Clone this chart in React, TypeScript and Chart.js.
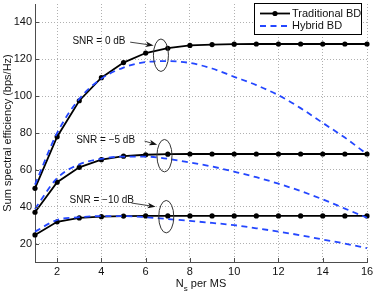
import React, { useEffect, useRef } from "react";
import { Chart, registerables } from "chart.js";

Chart.register(...registerables);

// ---------- data ----------
const nsPerMS = [1, 2, 3, 4, 5, 6, 7, 8, 9, 10, 11, 12, 13, 14, 15, 16];

const tradSnr0 = [50, 78, 97.5, 110, 118.2, 123.4, 126, 127.5, 128, 128.2, 128.3, 128.3, 128.3, 128.3, 128.3, 128.3];
const tradSnrM5 = [37, 53.3, 61.4, 65.5, 67.4, 68.2, 68.5, 68.6, 68.6, 68.6, 68.6, 68.6, 68.6, 68.6, 68.6, 68.6];
const tradSnrM10 = [24.7, 31.8, 33.9, 34.6, 34.9, 35, 35, 35, 35, 35, 35, 35, 35, 35, 35, 35];

const hybSnr0 = [52, 80, 98.5, 109.5, 115.5, 118.5, 119, 118, 115, 110.5, 106, 100.5, 93.5, 85.5, 77.5, 68.5];
const hybSnrM5 = [38.8, 55.5, 63, 66, 67.2, 67.2, 66, 64, 61.8, 59, 56, 52.5, 48.5, 44, 39, 34];
const hybSnrM10 = [26.5, 32.8, 34.3, 34.9, 34.9, 34.3, 33.3, 32.3, 31.2, 30, 28.3, 26.5, 24.5, 22.2, 20, 17.5];

const xTickValues = [2, 4, 6, 8, 10, 12, 14, 16];
const yTickValues = [20, 40, 60, 80, 100, 120, 140];

const legendLabels = ["Traditional BD", "Hybrid BD"];
const yAxisTitle = "Sum spectral efficiency (bps/Hz)";
const xAxisTitleMain = "N";
const xAxisTitleSub = "s";
const xAxisTitleRest = " per MS";

// annotations (data units)
const snrLabels = ["SNR = 0 dB", "SNR = \u22125 dB", "SNR = \u221210 dB"];
const snrLabelX = [2.69, 2.86, 2.56];
const snrLabelY = [129.8, 76.2, 43.6];
const arrowStartX = [5.3, 5.95, 5.36];
const arrowStartY = [129.3, 75.6, 42.0];
const arrowEndX = [6.36, 6.52, 6.45];
const arrowEndY = [127.5, 73.6, 40.0];
const ellipseX = [6.69, 6.85, 6.93];
const ellipseY = [122.2, 67.7, 34.6];
const ellipseRx = 0.34;
const ellipseRy = 8.8;

const FONT = "'Liberation Sans', Arial, Helvetica, sans-serif";
const BLACK = "#000000";
const BLUE = "#2447ff";
const AXIS = "#4d4d4d";

function xy(vals: number[]) {
  return nsPerMS.map((n, i) => ({ x: n, y: vals[i] }));
}

const annotPlugin = {
  id: "annotPlugin",
  afterDatasetsDraw(chart: any) {
    const { ctx, scales } = chart;
    const x = scales.x;
    const y = scales.y;
    ctx.save();
    // ellipses
    ctx.strokeStyle = "#333";
    ctx.lineWidth = 1;
    for (let i = 0; i < ellipseX.length; i++) {
      const cx = x.getPixelForValue(ellipseX[i]);
      const cy = y.getPixelForValue(ellipseY[i]);
      const rx = x.getPixelForValue(ellipseX[i] + ellipseRx) - cx;
      const ry = cy - y.getPixelForValue(ellipseY[i] + ellipseRy);
      ctx.beginPath();
      ctx.ellipse(cx, cy, rx, ry, 0, 0, Math.PI * 2);
      ctx.stroke();
    }
    // arrows
    ctx.strokeStyle = "#111";
    ctx.fillStyle = "#111";
    for (let i = 0; i < arrowStartX.length; i++) {
      const x1 = x.getPixelForValue(arrowStartX[i]);
      const y1 = y.getPixelForValue(arrowStartY[i]);
      const x2 = x.getPixelForValue(arrowEndX[i]);
      const y2 = y.getPixelForValue(arrowEndY[i]);
      const ang = Math.atan2(y2 - y1, x2 - x1);
      const hl = 8;
      const hw = 2.8;
      const bx = x2 - hl * Math.cos(ang);
      const by = y2 - hl * Math.sin(ang);
      ctx.beginPath();
      ctx.moveTo(x1, y1);
      ctx.lineTo(bx + 2 * Math.cos(ang), by + 2 * Math.sin(ang));
      ctx.lineWidth = 0.8;
      ctx.stroke();
      ctx.beginPath();
      ctx.moveTo(x2, y2);
      ctx.lineTo(bx - hw * Math.sin(ang), by + hw * Math.cos(ang));
      ctx.lineTo(bx + 2 * Math.cos(ang), by + 2 * Math.sin(ang));
      ctx.lineTo(bx + hw * Math.sin(ang), by - hw * Math.cos(ang));
      ctx.closePath();
      ctx.fill();
    }
    // labels
    ctx.font = "10px " + FONT;
    ctx.fillStyle = "#111";
    ctx.textAlign = "left";
    ctx.textBaseline = "middle";
    for (let i = 0; i < snrLabels.length; i++) {
      ctx.fillText(snrLabels[i], x.getPixelForValue(snrLabelX[i]), y.getPixelForValue(snrLabelY[i]));
    }
    ctx.restore();
  },
  afterDraw(chart: any) {
    const { ctx, chartArea, scales } = chart;
    const x = scales.x;
    const y = scales.y;
    ctx.save();
    // inward tick marks
    ctx.strokeStyle = AXIS;
    ctx.lineWidth = 1;
    ctx.beginPath();
    for (const v of xTickValues) {
      const px = Math.round(x.getPixelForValue(v)) + 0.5;
      ctx.moveTo(px, chartArea.bottom);
      ctx.lineTo(px, chartArea.bottom - 4);
    }
    for (const v of yTickValues) {
      const py = Math.round(y.getPixelForValue(v)) + 0.5;
      ctx.moveTo(chartArea.left, py);
      ctx.lineTo(chartArea.left + 4, py);
    }
    ctx.stroke();

    // x axis title with subscript
    const mainFont = "11px " + FONT;
    const subFont = "8px " + FONT;
    ctx.font = mainFont;
    const wN = ctx.measureText(xAxisTitleMain).width;
    const wRest = ctx.measureText(xAxisTitleRest).width;
    ctx.font = subFont;
    const wS = ctx.measureText(xAxisTitleSub).width;
    const total = wN + wS + wRest;
    const cx = (chartArea.left + chartArea.right) / 2;
    let sx = cx - total / 2;
    const ty = 284;
    ctx.fillStyle = "#111";
    ctx.textAlign = "left";
    ctx.textBaseline = "middle";
    ctx.font = mainFont;
    ctx.fillText(xAxisTitleMain, sx, ty);
    sx += wN;
    ctx.font = subFont;
    ctx.fillText(xAxisTitleSub, sx, ty + 5);
    sx += wS;
    ctx.font = mainFont;
    ctx.fillText(xAxisTitleRest, sx, ty);

    // legend
    const lx = 254.5;
    const ly = 3.5;
    const lw = 107;
    const lh = 31;
    ctx.fillStyle = "#ffffff";
    ctx.fillRect(lx, ly, lw, lh);
    ctx.strokeStyle = "#000";
    ctx.lineWidth = 1;
    ctx.strokeRect(lx, ly, lw, lh);
    const r1 = ly + 10;
    const r2 = ly + 22.5;
    ctx.lineWidth = 1.8;
    ctx.beginPath();
    ctx.moveTo(lx + 5.5, r1);
    ctx.lineTo(lx + 35.5, r1);
    ctx.stroke();
    ctx.fillStyle = "#000";
    ctx.beginPath();
    ctx.arc(lx + 20.5, r1, 2.6, 0, Math.PI * 2);
    ctx.fill();
    ctx.strokeStyle = BLUE;
    ctx.setLineDash([6, 4.5]);
    ctx.beginPath();
    ctx.moveTo(lx + 5.5, r2);
    ctx.lineTo(lx + 35.5, r2);
    ctx.stroke();
    ctx.setLineDash([]);
    ctx.fillStyle = "#111";
    ctx.font = "11px " + FONT;
    ctx.textAlign = "left";
    ctx.textBaseline = "middle";
    ctx.fillText(legendLabels[0], lx + 37.5, r1);
    ctx.fillText(legendLabels[1], lx + 37.5, r2);
    ctx.restore();
  },
};

export default function App() {
  const canvasRef = useRef<HTMLCanvasElement | null>(null);

  useEffect(() => {
    document.body.style.margin = "0";
    const canvas = canvasRef.current;
    if (!canvas) return;

    const trad = (data: number[]) => ({
      label: legendLabels[0],
      data: xy(data),
      borderColor: BLACK,
      backgroundColor: BLACK,
      borderWidth: 1.8,
      pointRadius: 2.6,
      pointBackgroundColor: BLACK,
      pointBorderWidth: 0,
      tension: 0,
      clip: false as any,
      order: 1,
    });
    const hyb = (data: number[]) => ({
      label: legendLabels[1],
      data: xy(data),
      borderColor: BLUE,
      backgroundColor: BLUE,
      borderWidth: 1.8,
      borderDash: [6, 4.5],
      pointRadius: 0,
      cubicInterpolationMode: "monotone" as const,
      clip: false as any,
      order: 0,
    });

    const chart = new Chart(canvas, {
      type: "line",
      data: {
        datasets: [
          hyb(hybSnr0),
          hyb(hybSnrM5),
          hyb(hybSnrM10),
          trad(tradSnr0),
          trad(tradSnrM5),
          trad(tradSnrM10),
        ] as any,
      },
      options: {
        responsive: false,
        animation: false,
        devicePixelRatio: 1,
        layout: { padding: { top: 1, right: 7, left: 0, bottom: 0 } },
        plugins: {
          legend: { display: false },
          tooltip: { enabled: false },
        },
        scales: {
          x: {
            type: "linear",
            min: 1,
            max: 16,
            afterBuildTicks: (scale: any) => {
              scale.ticks = xTickValues.map((v) => ({ value: v }));
            },
            afterFit: (scale: any) => {
              scale.height = 32;
              scale.paddingLeft = 0;
              scale.paddingRight = 0;
              scale.paddingTop = 0;
              scale.paddingBottom = 0;
            },
            ticks: {
              color: "#111",
              font: { family: FONT, size: 11 },
              padding: 3,
              maxRotation: 0,
              autoSkip: false,
            },
            grid: {
              color: "#b0b0b0",
              lineWidth: 1,
              drawTicks: false,
            },
            border: { display: true, color: AXIS, width: 1, dash: [1, 2] },
          },
          y: {
            type: "linear",
            min: 10,
            max: 150,
            afterBuildTicks: (scale: any) => {
              scale.ticks = yTickValues.map((v) => ({ value: v }));
            },
            afterFit: (scale: any) => {
              scale.width = 35;
              scale.paddingLeft = 0;
              scale.paddingRight = 0;
              scale.paddingTop = 0;
              scale.paddingBottom = 0;
            },
            ticks: {
              color: "#111",
              font: { family: FONT, size: 11 },
              padding: 3,
              autoSkip: false,
            },
            grid: {
              color: "#b0b0b0",
              lineWidth: 1,
              drawTicks: false,
            },
            border: { display: true, color: AXIS, width: 1, dash: [1, 2] },
            title: {
              display: true,
              text: yAxisTitle,
              color: "#111",
              font: { family: FONT, size: 11 },
              padding: { top: 1, bottom: 0 },
            },
          },
        },
      },
      plugins: [annotPlugin],
    });

    return () => chart.destroy();
  }, []);

  return (
    <div style={{ width: 374, height: 294 }}>
      <canvas ref={canvasRef} width={374} height={294} style={{ display: "block", width: 374, height: 294 }} />
    </div>
  );
}
